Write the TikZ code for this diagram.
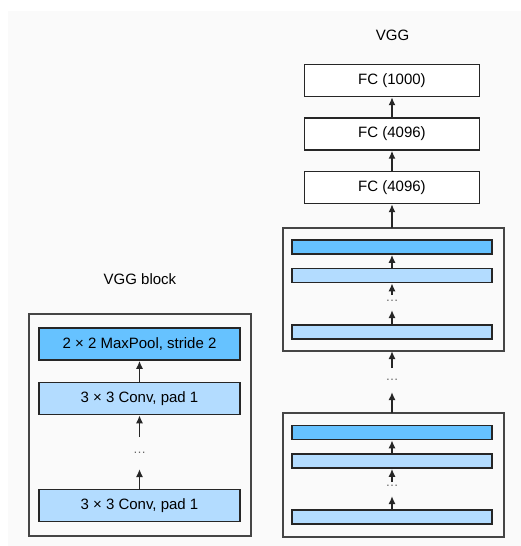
\documentclass[tikz,border=0pt]{standalone}
\usepackage{fontspec}
\setmainfont{Liberation Sans}
\usetikzlibrary{arrows.meta}
\definecolor{bg}{HTML}{FAFAFA}
\definecolor{dblue}{HTML}{66C2FF}
\definecolor{lblue}{HTML}{B3DCFF}
\definecolor{edge}{HTML}{262626}
\definecolor{frame}{HTML}{454545}
\tikzset{
  layer/.style={draw=edge, line width=1.5pt, rectangle, inner sep=0pt,
    minimum width=201pt, minimum height=32pt, font=\fontsize{15}{18}\selectfont},
  fcbox/.style={draw=edge, line width=1.3pt, fill=white, rectangle, inner sep=0pt,
    minimum width=175pt, minimum height=32pt, font=\fontsize{15}{18}\selectfont},
  bar/.style={draw=edge, line width=1.5pt, rectangle, inner sep=0pt,
    minimum width=200pt, minimum height=14pt},
  outer/.style={draw=frame, line width=2pt, fill=bg},
  conn/.style={line width=1.7pt, draw=edge, -{Latex[length=8pt,width=7pt]}},
  dotsn/.style={text=black!60, font=\fontsize{13}{15}\selectfont, inner sep=0pt},
  title/.style={font=\fontsize{15}{18}\selectfont, inner sep=0pt}
}
\begin{document}
\begin{tikzpicture}[x=1pt,y=-1pt]
\useasboundingbox (0,0) rectangle (521,546);
\fill[white] (0,0) rectangle (521,546);
\fill[bg] (8,11) rectangle (521,546);

% ---------- VGG block (left) ----------
\node[title] (tblock) at (140,279) {VGG block};
\draw[outer] (29,314) rectangle (251,536);
\node[layer, fill=dblue] (mp) at (139.5,344) {2 × 2 MaxPool, stride 2};
\node[layer, fill=lblue] (c1) at (139.5,398.5) {3 × 3 Conv, pad 1};
\node[layer, fill=lblue] (c2) at (139.5,505.5) {3 × 3 Conv, pad 1};
\node[dotsn] (ld) at (139.5,453) {…};
\coordinate (la) at (139.5,437);
\coordinate (lb) at (139.5,469);
\draw[conn] (c1.north) -- (mp.south);
\draw[conn] (la) -- (c1.south);
\draw[conn] (c2.north) -- (lb);

% ---------- VGG (right) ----------
\node[title] (tvgg) at (392.5,35) {VGG};
\node[fcbox] (fc1) at (392,80.5) {FC (1000)};
\node[fcbox] (fc2) at (392,134) {FC (4096)};
\node[fcbox] (fc3) at (392,187.5) {FC (4096)};
\draw[outer] (283,228) rectangle (504,351);
\coordinate (b1top) at (392,228);
\coordinate (b1bot) at (392,351);
\node[bar, fill=dblue] (r1) at (392,247) {};
\node[bar, fill=lblue] (r2) at (392,275.5) {};
\node[bar, fill=lblue] (r3) at (392,332) {};
\node[dotsn] (rd1) at (392,301) {…};
\coordinate (ra1) at (392,295);
\coordinate (rb1) at (392,310);

\node[dotsn] (rdm) at (392,380) {…};
\coordinate (ma) at (392,368);
\coordinate (mb) at (392,392);

\draw[outer] (283,413) rectangle (504,537);
\coordinate (b2top) at (392,413);
\node[bar, fill=dblue] (s1) at (392,432.5) {};
\node[bar, fill=lblue] (s2) at (392,461) {};
\node[bar, fill=lblue] (s3) at (392,517) {};
\node[dotsn] (rd2) at (392,486) {…};
\coordinate (sa) at (392,482);
\coordinate (sb) at (392,496);

\draw[conn] (fc2.north) -- (fc1.south);
\draw[conn] (fc3.north) -- (fc2.south);
\draw[conn] (b1top) -- (fc3.south);
\draw[conn] (r2.north) -- (r1.south);
\draw[conn] (ra1) -- (r2.south);
\draw[conn] (r3.north) -- (rb1);
\draw[conn] (ma) -- (b1bot);
\draw[conn] (b2top) -- (mb);
\draw[conn] (s2.north) -- (s1.south);
\draw[conn] (sa) -- (s2.south);
\draw[conn] (s3.north) -- (sb);
\end{tikzpicture}
\end{document}
